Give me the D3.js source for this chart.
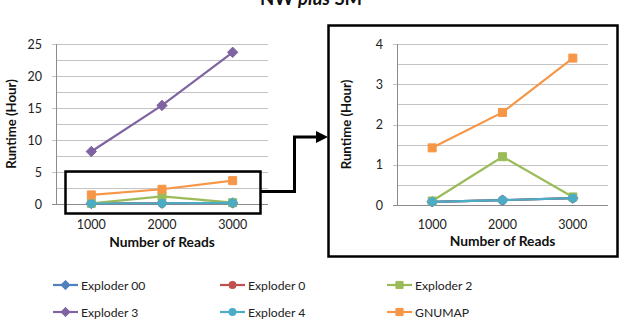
<!DOCTYPE html>
<html>
<head>
<meta charset="utf-8">
<script src="https://cdn.jsdelivr.net/npm/d3@7"></script>
<style>
  body { margin: 0; background: #fff; }
  svg { display: block; font-family: Lato, "Open Sans", sans-serif; }
</style>
</head>
<body>
<svg id="chart" width="622" height="324"></svg>
<script>
// data
const reads = ['1000', '2000', '3000'];
const seriesNames = ['Exploder 00', 'Exploder 0', 'Exploder 2', 'Exploder 3', 'Exploder 4', 'GNUMAP'];
const exploder00 = [0.08, 0.12, 0.17];
const exploder0 = [0.08, 0.12, 0.17];
const exploder2 = [0.1, 1.2, 0.2];
const exploder3 = [8.2, 15.4, 23.7];
const exploder4 = [0.08, 0.12, 0.17];
const gnumap = [1.42, 2.3, 3.65];
const leftTicks = [0, 5, 10, 15, 20, 25];
const rightTicks = [0, 1, 2, 3, 4];

// square diamond like the spreadsheet marker (d3's own is too narrow)
const squareDiamond = {
  draw(context, size) {
    const r = Math.sqrt(size / 2);
    context.moveTo(0, -r);
    context.lineTo(r, 0);
    context.lineTo(0, r);
    context.lineTo(-r, 0);
    context.closePath();
  }
};

// office 2007 palette + marker shape per series
const colors = ['#4f81bd', '#c0504d', '#9bbb59', '#8064a2', '#4bacc6', '#f79646'];
const shapes = [squareDiamond, d3.symbolCircle, d3.symbolSquare, squareDiamond, d3.symbolCircle, d3.symbolSquare];
const values = [exploder00, exploder0, exploder2, exploder3, exploder4, gnumap];

const series = seriesNames.map((name, i) => ({
  name: name,
  color: colors[i],
  shape: shapes[i],
  points: reads.map((r, j) => ({ x: r, y: values[i][j] }))
}));

const svg = d3.select('#chart');

// marker sizes in d3 symbol area units
function symbolSize(shape) {
  if (shape === squareDiamond) return 54;
  if (shape === d3.symbolSquare) return 64;
  return 52;
}

// @desc : draws one line chart into the given box
function drawPanel(opts) {
  const g = svg.append('g');
  const x = d3.scalePoint().domain(reads).range([opts.left, opts.right]).padding(0.5);
  const y = d3.scaleLinear().domain([0, opts.max]).range([opts.bottom, opts.top]);

  // gridlines, majors plus the minor halfway ones
  const grid = d3.range(0, opts.max + 1e-9, opts.minor);
  g.selectAll('.grid')
    .data(grid)
    .enter()
    .append('line')
      .attr('x1', d => opts.ticks.includes(d) ? opts.left - 4 : opts.left)
      .attr('x2', opts.right)
      .attr('y1', d => Math.round(y(d)) + 0.5)
      .attr('y2', d => Math.round(y(d)) + 0.5)
      .attr('stroke', d => d === 0 ? '#8c8c8c' : '#c4c4c4')
      .attr('stroke-width', 1);

  // y axis line
  g.append('line')
    .attr('x1', opts.left + 0.5).attr('x2', opts.left + 0.5)
    .attr('y1', y(opts.max)).attr('y2', y(0))
    .attr('stroke', '#8c8c8c');

  g.selectAll('.ylab')
    .data(opts.ticks)
    .enter()
    .append('text')
      .attr('x', opts.left - 14)
      .attr('y', d => y(d) + 4.5)
      .attr('text-anchor', 'end')
      .attr('font-size', 12.5)
      .attr('fill', '#222')
      .text(d => d);

  g.selectAll('.xlab')
    .data(reads)
    .enter()
    .append('text')
      .attr('x', d => x(d))
      .attr('y', opts.xLabelY)
      .attr('text-anchor', 'middle')
      .attr('font-size', 12.5)
      .attr('fill', '#222')
      .text(d => d);

  g.append('text')
    .attr('x', (opts.left + opts.right) / 2)
    .attr('y', opts.xTitleY)
    .attr('text-anchor', 'middle')
    .attr('font-size', 13.8)
    .attr('font-weight', 'bold')
    .attr('fill', '#111')
    .text('Number of Reads');

  g.append('text')
    .attr('transform', `translate(${opts.yTitleX}, ${(opts.top + opts.bottom) / 2}) rotate(-90)`)
    .attr('text-anchor', 'middle')
    .attr('font-size', 13.2)
    .attr('font-weight', 'bold')
    .attr('fill', '#111')
    .text('Runtime (Hour)');

  // series, clipped to the plot area
  const clipId = 'clip-' + opts.left;
  svg.append('clipPath').attr('id', clipId)
    .append('rect')
      .attr('x', opts.left - 10).attr('y', opts.top - 6)
      .attr('width', opts.right - opts.left + 20)
      .attr('height', opts.bottom - opts.top + 16);

  const plot = g.append('g').attr('clip-path', `url(#${clipId})`);
  const line = d3.line().x(d => x(d.x)).y(d => y(d.y));

  series.filter(s => s.points.some(p => p.y <= opts.max)).forEach(s => {
    plot.append('path')
      .attr('d', line(s.points))
      .attr('fill', 'none')
      .attr('stroke', s.color)
      .attr('stroke-width', 2.2);
    plot.selectAll(null)
      .data(s.points)
      .enter()
      .append('path')
        .attr('transform', d => `translate(${x(d.x)}, ${y(d.y)})`)
        .attr('d', d3.symbol().type(s.shape).size(symbolSize(s.shape)))
        .attr('fill', s.color)
        .attr('stroke', s.color);
  });

  return { x: x, y: y };
}

// title, cut off at the top edge as in the source image
const title = svg.append('text')
  .attr('x', 311)
  .attr('y', 5)
  .attr('text-anchor', 'middle')
  .attr('font-size', 18.5)
  .attr('font-weight', 'bold')
  .attr('fill', '#111');
title.append('tspan').text('NW ');
title.append('tspan').attr('font-style', 'italic').text('plus');
title.append('tspan').text(' SM');

const leftPanel = drawPanel({
  left: 56, right: 268, top: 44, bottom: 204,
  max: 25, minor: 2.5, ticks: leftTicks,
  xLabelY: 229, xTitleY: 247, yTitleX: 16
});

// zoom box on the left chart
svg.append('rect')
  .attr('x', 65.5).attr('y', 171.5)
  .attr('width', 195).attr('height', 42)
  .attr('fill', 'none')
  .attr('stroke', '#000')
  .attr('stroke-width', 2.5);

// right chart frame
svg.append('rect')
  .attr('x', 328.5).attr('y', 25.5)
  .attr('width', 289).attr('height', 231)
  .attr('fill', '#fff')
  .attr('stroke', '#000')
  .attr('stroke-width', 2.5);

const rightPanel = drawPanel({
  left: 397, right: 608, top: 44, bottom: 205,
  max: 4, minor: 0.5, ticks: rightTicks,
  xLabelY: 229, xTitleY: 246, yTitleX: 351
});

// connector with arrow
svg.append('path')
  .attr('d', 'M261,191.5 H294.5 V137 H318')
  .attr('fill', 'none')
  .attr('stroke', '#000')
  .attr('stroke-width', 3);
svg.append('path')
  .attr('d', 'M316,131 L328,137 L316,143 Z')
  .attr('fill', '#000');

// legend, three columns by two rows
const legendX = [53, 220, 387];
const legendY = [285, 312];
const legend = svg.append('g')
  .selectAll('g')
  .data(series)
  .enter()
  .append('g')
    .attr('transform', (d, i) => `translate(${legendX[i % 3]}, ${legendY[Math.floor(i / 3)]})`);

legend.append('line')
  .attr('x1', 0).attr('x2', 25)
  .attr('stroke', d => d.color)
  .attr('stroke-width', 2.2);
legend.append('path')
  .attr('transform', 'translate(12.5, 0)')
  .attr('d', d => d3.symbol().type(d.shape).size(symbolSize(d.shape) * 0.8)())
  .attr('fill', d => d.color)
  .attr('stroke', d => d.color);
legend.append('text')
  .attr('x', 28)
  .attr('y', 4.5)
  .attr('font-size', 12.2)
  .attr('fill', '#222')
  .text(d => d.name);
</script>
</body>
</html>
